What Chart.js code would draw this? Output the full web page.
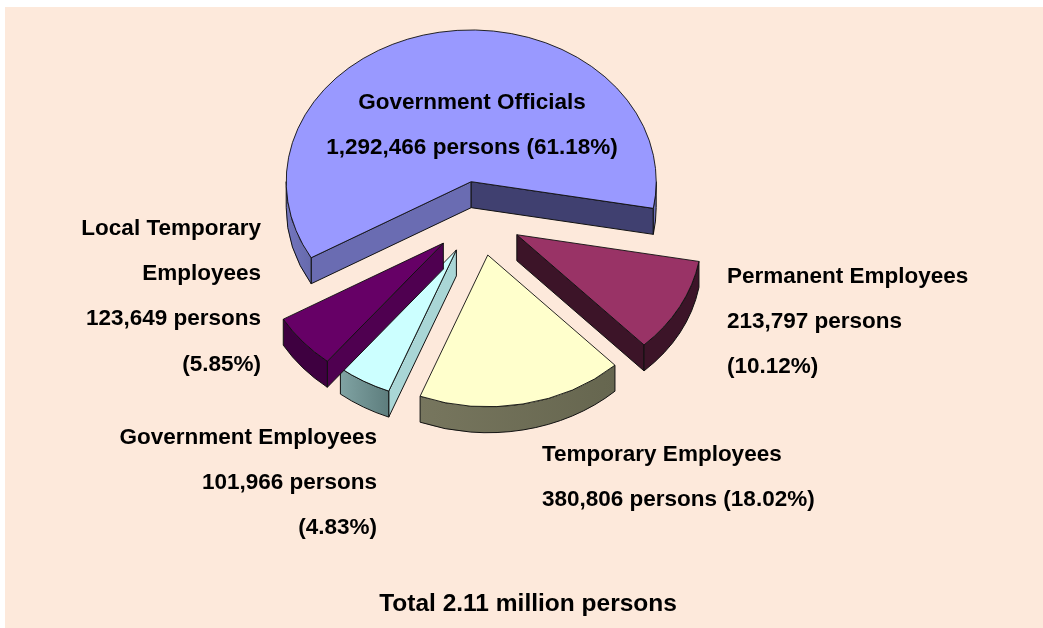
<!DOCTYPE html>
<html>
<head>
<meta charset="utf-8">
<title>Government employees</title>
<script src="https://cdn.jsdelivr.net/npm/chart.js@4"></script>
<style>
  html, body { margin: 0; padding: 0; background: #ffffff; overflow: hidden; }
  #panel { position: absolute; left: 5px; top: 7px; right: 0; bottom: 0; background: #fde9db; }
  #pie { position: absolute; left: 0; top: 0; }
</style>
</head>
<body>
<div id="panel"></div>
<canvas id="pie" width="1043" height="628"></canvas>
<script>
// ── Data ─────────────────────────────────────────────────────
const categories = ["Government Officials", "Permanent Employees", "Temporary Employees", "Government Employees", "Local Temporary Employees"];
const persons    = [1292466, 213797, 380806, 101966, 123649];
const totalText  = "Total 2.11 million persons";

const labelLines = [
  ["Government Officials", "1,292,466 persons (61.18%)"],
  ["Permanent Employees", "213,797 persons", "(10.12%)"],
  ["Temporary Employees", "380,806 persons (18.02%)"],
  ["Government Employees", "101,966 persons", "(4.83%)"],
  ["Local Temporary", "Employees", "123,649 persons", "(5.85%)"],
];

// ── Styles ───────────────────────────────────────────────────
const topColors   = ["#9999ff", "#993366", "#ffffcc", "#ccffff", "#660066"];
const rimColors   = [["#7375be", "#666aac"], ["#3c1428", "#3c1428"], ["#77765e", "#66664f"], ["#80a3a3", "#5d7d7d"], ["#3e0040", "#3e0040"]];
const startColors = ["#6a6cb2", "#3c1428", "#6b6b52", "#a9d6d6", "#4f0050"];
const endColors   = ["#404070", "#3c1428", "#6b6b52", "#78999a", "#3e0040"];

const sliceGaps = [45, 43, 46, 45, 47]; // px each slice is pulled out, before the tilt

const TILT  = 0.82;
const DEPTH = 26;
const FONT  = 'bold 22.5px "Liberation Sans", Arial, sans-serif';
const TOTAL_FONT = 'bold 24.5px "Liberation Sans", Arial, sans-serif';
const LINE_GAP = 45.3;

const labelSpots = [
  { x: 472, y: 102.5, align: "center" },
  { x: 727, y: 276.5, align: "left" },
  { x: 542, y: 454.5, align: "left" },
  { x: 377, y: 437.5, align: "right" },
  { x: 261, y: 228.5, align: "right" },
];

// ── 3D helpers ───────────────────────────────────────────────
function sliceGeometry(arc, i) {
  const p = arc.getProps(["x", "y", "startAngle", "endAngle", "outerRadius"], true);
  const mid = (p.startAngle + p.endAngle) / 2;
  const dx = Math.cos(mid) * sliceGaps[i];
  const dy = Math.sin(mid) * sliceGaps[i] * TILT;
  return { ...p, dx, dy, cx: p.x + dx, cy: p.y + dy };
}

function strokeFill(ctx, color) {
  ctx.fillStyle = color;
  ctx.fill();
  ctx.strokeStyle = "#111111";
  ctx.lineWidth = 1;
  ctx.stroke();
}

function drawFace(ctx, s, angle, color) {
  const ex = s.cx + Math.cos(angle) * s.outerRadius;
  const ey = s.cy + Math.sin(angle) * s.outerRadius * TILT;
  ctx.beginPath();
  ctx.moveTo(s.cx, s.cy);
  ctx.lineTo(ex, ey);
  ctx.lineTo(ex, ey + DEPTH);
  ctx.lineTo(s.cx, s.cy + DEPTH);
  ctx.closePath();
  strokeFill(ctx, color);
}

function drawRim(ctx, s, colors) {
  // only the front half of the ellipse shows, which is 0..PI and again 2PI..3PI
  [0, Math.PI * 2].forEach(from => {
    const a = Math.max(s.startAngle, from);
    const b = Math.min(s.endAngle, from + Math.PI);
    if (b <= a) return;
    const r = s.outerRadius;
    // the angle runs clockwise, so the left end of the rim is at b
    const shade = ctx.createLinearGradient(s.cx + Math.cos(b) * r, 0, s.cx + Math.cos(a) * r, 0);
    shade.addColorStop(0, colors[0]);
    shade.addColorStop(1, colors[1]);
    ctx.beginPath();
    ctx.ellipse(s.cx, s.cy, r, r * TILT, 0, a, b);
    ctx.ellipse(s.cx, s.cy + DEPTH, r, r * TILT, 0, b, a, true);
    ctx.closePath();
    strokeFill(ctx, shade);
  });
}

// ── Plugins ──────────────────────────────────────────────────
const tiltedPie = {
  id: "tiltedPie",
  beforeDatasetDraw(chart, args) {
    const ctx = chart.ctx;
    args.meta.data.forEach((arc, i) => {
      const s = sliceGeometry(arc, i);
      if (Math.cos(s.startAngle) < 0) drawFace(ctx, s, s.startAngle, startColors[i]);
      if (Math.cos(s.endAngle) > 0) drawFace(ctx, s, s.endAngle, endColors[i]);
      drawRim(ctx, s, rimColors[i]);

      // top face is the library's own arc, squashed and moved out
      ctx.save();
      ctx.translate(s.cx, s.cy);
      ctx.scale(1, TILT);
      ctx.translate(-s.x, -s.y);
      arc.draw(ctx);
      ctx.restore();
    });
    return false;
  },
  afterDraw(chart) {
    const ctx = chart.ctx;
    ctx.save();
    ctx.font = FONT;
    ctx.fillStyle = "#000000";
    ctx.textBaseline = "middle";
    labelLines.forEach((lines, i) => {
      const spot = labelSpots[i];
      ctx.textAlign = spot.align;
      lines.forEach((line, n) => ctx.fillText(line, spot.x, spot.y + n * LINE_GAP));
    });
    ctx.font = TOTAL_FONT;
    ctx.textAlign = "center";
    ctx.fillText(totalText, 528, 604);
    ctx.restore();
  },
};

// ── Chart ────────────────────────────────────────────────────
new Chart(document.getElementById("pie"), {
  type: "pie",
  data: {
    labels: categories,
    datasets: [{
      data: persons,
      backgroundColor: topColors,
      borderColor: "#111111",
      borderWidth: 1,
      radius: 185,
    }],
  },
  options: {
    responsive: false,
    animation: false,
    rotation: 239.9,
    layout: { padding: { right: 85, bottom: 192 } },
    plugins: { legend: { display: false }, tooltip: { enabled: false } },
  },
  plugins: [tiltedPie],
});
</script>
</body>
</html>
